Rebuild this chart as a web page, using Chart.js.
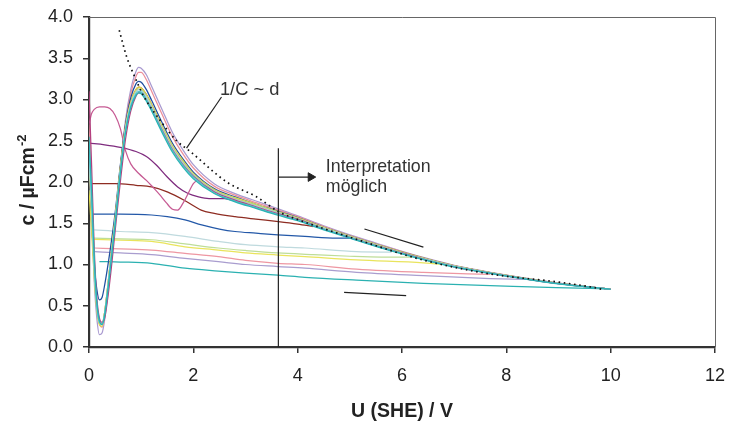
<!DOCTYPE html>
<html><head><meta charset="utf-8">
<script src="https://cdn.jsdelivr.net/npm/chart.js@4.4.0/dist/chart.umd.min.js"></script>
<style>html,body{margin:0;padding:0;background:#fff;}</style>
</head><body>
<canvas id="c" width="730" height="423"></canvas>
<script>
// ---------- tick labels ----------
const xTickValues = [0, 2, 4, 6, 8, 10, 12];
const xTickLabels = ['0', '2', '4', '6', '8', '10', '12'];
const yTickValues = [0, 0.5, 1, 1.5, 2, 2.5, 3, 3.5, 4];
const yTickLabels = ['0.0', '0.5', '1.0', '1.5', '2.0', '2.5', '3.0', '3.5', '4.0'];

// ---------- peak curves (shared potential grid) ----------
const peakU = [0, 0.05, 0.1, 0.15, 0.2, 0.25, 0.3, 0.4, 0.5, 0.6, 0.7, 0.8, 0.9, 0.95, 1.0, 1.1, 1.2, 1.4, 1.6, 1.8, 2.0, 2.4, 2.8, 3.2, 3.6, 4.0, 4.5, 5.0, 5.5, 6.0, 6.5, 7.0, 8.0, 9.0, 10.0];
const peakLavender = [2.3, 1.6, 0.8, 0.35, 0.15, 0.17, 0.33, 0.88, 1.5, 2.17, 2.75, 3.12, 3.34, 3.39, 3.38, 3.3, 3.16, 2.88, 2.6, 2.39, 2.21, 1.98, 1.86, 1.77, 1.68, 1.59, 1.47, 1.36, 1.26, 1.16, 1.07, 0.99, 0.872, 0.775, 0.70];
const peakSalmon = [2.7, 1.9, 1.05, 0.5, 0.28, 0.24, 0.36, 0.9, 1.5, 2.15, 2.7, 3.07, 3.28, 3.33, 3.33, 3.24, 3.1, 2.82, 2.55, 2.34, 2.17, 1.95, 1.84, 1.75, 1.665, 1.58, 1.46, 1.35, 1.25, 1.155, 1.065, 0.988, 0.87, 0.773, 0.70];
const peakNavy = [2.0, 1.5, 1.0, 0.7, 0.57, 0.6, 0.75, 1.15, 1.62, 2.2, 2.7, 3.02, 3.19, 3.22, 3.21, 3.12, 2.99, 2.72, 2.47, 2.28, 2.12, 1.92, 1.82, 1.73, 1.65, 1.57, 1.45, 1.345, 1.245, 1.15, 1.062, 0.985, 0.868, 0.772, 0.70];
const peakBrown = [2.18, 1.6, 0.95, 0.5, 0.3, 0.28, 0.42, 0.97, 1.55, 2.17, 2.67, 2.97, 3.12, 3.15, 3.14, 3.06, 2.94, 2.67, 2.43, 2.25, 2.09, 1.9, 1.8, 1.72, 1.64, 1.56, 1.445, 1.34, 1.24, 1.145, 1.06, 0.982, 0.866, 0.77, 0.70];
const peakYellow = [1.9, 1.4, 0.85, 0.45, 0.27, 0.25, 0.42, 0.98, 1.56, 2.17, 2.67, 2.97, 3.12, 3.15, 3.14, 3.06, 2.94, 2.68, 2.44, 2.26, 2.1, 1.91, 1.81, 1.73, 1.645, 1.565, 1.45, 1.345, 1.245, 1.15, 1.062, 0.985, 0.868, 0.772, 0.70];
const peakLightGreen = [2.2, 1.6, 0.9, 0.48, 0.29, 0.27, 0.42, 0.97, 1.54, 2.15, 2.65, 2.95, 3.1, 3.13, 3.12, 3.04, 2.92, 2.66, 2.42, 2.24, 2.09, 1.9, 1.8, 1.72, 1.64, 1.56, 1.445, 1.34, 1.24, 1.145, 1.06, 0.982, 0.867, 0.77, 0.70];
const peakLightBlue = [2.3, 1.7, 0.95, 0.5, 0.3, 0.27, 0.4, 0.95, 1.52, 2.14, 2.64, 2.94, 3.09, 3.12, 3.11, 3.03, 2.91, 2.65, 2.41, 2.23, 2.08, 1.89, 1.79, 1.71, 1.63, 1.55, 1.44, 1.335, 1.235, 1.14, 1.055, 0.98, 0.865, 0.77, 0.70];
const peakMagenta = [3.1, 2.2, 1.2, 0.6, 0.35, 0.3, 0.35, 0.8, 1.4, 2.0, 2.52, 2.86, 3.04, 3.08, 3.08, 3.0, 2.88, 2.63, 2.39, 2.21, 2.07, 1.88, 1.78, 1.7, 1.62, 1.55, 1.43, 1.33, 1.23, 1.14, 1.05, 0.975, 0.862, 0.768, 0.70];
const peakCyan = [2.4, 1.8, 1.0, 0.5, 0.3, 0.28, 0.4, 0.93, 1.5, 2.12, 2.62, 2.92, 3.07, 3.1, 3.09, 3.0, 2.88, 2.62, 2.38, 2.2, 2.06, 1.87, 1.77, 1.69, 1.61, 1.54, 1.43, 1.325, 1.225, 1.135, 1.05, 0.975, 0.862, 0.768, 0.70];
const peakTeal = [2.55, 1.9, 1.1, 0.55, 0.32, 0.27, 0.38, 0.9, 1.48, 2.1, 2.6, 2.9, 3.05, 3.08, 3.07, 2.98, 2.86, 2.6, 2.36, 2.18, 2.04, 1.86, 1.76, 1.68, 1.6, 1.53, 1.42, 1.32, 1.22, 1.13, 1.045, 0.97, 0.86, 0.765, 0.70];

// ---------- plateau curves ----------
const pinkU = [0, 0.05, 0.1, 0.2, 0.3, 0.4, 0.5, 0.6, 0.7, 0.8, 0.96, 1.1, 1.22, 1.35, 1.48, 1.6, 1.7, 1.8, 1.9, 2.0, 2.1];
const pinkC = [2.7, 2.83, 2.88, 2.91, 2.91, 2.89, 2.81, 2.65, 2.38, 2.22, 2.1, 2.02, 1.94, 1.85, 1.75, 1.67, 1.66, 1.74, 1.86, 1.98, 2.03];
const purpleU = [0, 0.3, 0.6, 0.9, 1.1, 1.3, 1.5, 1.7, 1.9, 2.1, 2.3, 2.6, 2.8, 3.2, 3.6, 4.0, 4.5, 5.0, 5.5, 6.0, 7.0, 8.0, 9.0, 10.0];
const purpleC = [2.47, 2.45, 2.42, 2.37, 2.31, 2.2, 2.06, 1.94, 1.86, 1.82, 1.8, 1.8, 1.77, 1.69, 1.61, 1.54, 1.43, 1.325, 1.225, 1.135, 0.972, 0.862, 0.767, 0.70];
const brownU = [0, 0.5, 0.9, 1.2, 1.5, 1.85, 2.15, 2.4, 2.8, 3.2, 3.63, 4.0, 4.3];
const brownC = [1.98, 1.98, 1.96, 1.94, 1.88, 1.77, 1.66, 1.62, 1.58, 1.55, 1.52, 1.49, 1.46];
const blueU = [0.08, 0.6, 1.2, 1.5, 1.84, 2.16, 2.5, 2.8, 3.2, 3.62, 4.14, 4.75, 5.0];
const blueC = [1.61, 1.61, 1.6, 1.58, 1.54, 1.48, 1.43, 1.4, 1.38, 1.36, 1.34, 1.32, 1.32];
const lightBlueU = [0.1, 0.6, 1.2, 1.84, 2.48, 3.0, 3.62, 4.14, 5.13, 5.8];
const lightBlueC = [1.42, 1.4, 1.385, 1.34, 1.28, 1.24, 1.215, 1.2, 1.155, 1.15];
const lightGreenU = [0.1, 0.6, 1.2, 1.84, 2.48, 3.0, 3.62, 4.3, 5.0, 5.6, 6.2];
const lightGreenC = [1.32, 1.31, 1.3, 1.25, 1.2, 1.17, 1.14, 1.12, 1.1, 1.09, 1.09];
const yellowU = [0.1, 0.6, 1.2, 1.84, 2.48, 3.0, 3.62, 4.14, 5.13, 6.41, 6.9];
const yellowC = [1.305, 1.295, 1.28, 1.215, 1.175, 1.14, 1.115, 1.095, 1.055, 1.02, 0.995];
const salmonU = [0.1, 0.6, 1.2, 1.84, 2.48, 3.0, 3.62, 4.14, 5.13, 6.41, 7.69];
const salmonC = [1.2, 1.19, 1.175, 1.135, 1.095, 1.05, 1.015, 1.0, 0.945, 0.905, 0.88];
const lavenderU = [0.1, 0.6, 1.2, 1.84, 2.48, 3.0, 3.62, 4.14, 5.13, 6.41, 7.69, 8.33];
const lavenderC = [1.155, 1.14, 1.12, 1.075, 1.035, 1.0, 0.975, 0.955, 0.905, 0.865, 0.83, 0.82];
const tealU = [0.2, 0.6, 1.2, 1.84, 2.48, 3.0, 3.62, 4.14, 5.13, 6.41, 7.69, 8.96, 9.92];
const tealC = [1.035, 1.03, 1.015, 0.955, 0.92, 0.895, 0.87, 0.845, 0.81, 0.77, 0.745, 0.72, 0.705];

// ---------- 1/C ~ d model curve ----------
const modelU = [0.58, 0.72, 0.88, 1.04, 1.36, 1.68, 1.94, 2.64, 3.21, 3.66, 3.85, 5.13, 6.4, 7.69, 8.96, 9.6, 9.83];
const modelC = [3.84, 3.52, 3.27, 3.05, 2.75, 2.5, 2.37, 2.0, 1.82, 1.63, 1.58, 1.305, 1.055, 0.885, 0.79, 0.73, 0.70];

// ---------- annotation geometry (data coordinates) ----------
const leaderU = [2.54, 1.87];
const leaderC = [3.03, 2.41];
const limitU = [3.63, 3.63];
const limitC = [0, 2.41];
const arrowU = [3.63, 4.25];
const arrowC = [2.06, 2.06];
const slope1U = [5.28, 6.41];
const slope1C = [1.43, 1.21];
const slope2U = [4.89, 6.08];
const slope2C = [0.663, 0.622];
const labelModel = { text: '1/C ~ d', u: 2.51, c: 3.055 };
const labelInterp = [
  { text: 'Interpretation', u: 4.54, c: 2.125 },
  { text: 'möglich', u: 4.54, c: 1.88 }
];

const pts = (us, cs) => us.map((u, i) => ({ x: u, y: cs[i] }));

const FONT = "'Liberation Sans', Arial, Helvetica, sans-serif";
Chart.defaults.font.family = FONT;

function curve(us, cs, color, w) {
  return {
    data: pts(us, cs), borderColor: color, borderWidth: w || 1.25,
    pointRadius: 0, fill: false, cubicInterpolationMode: 'monotone'
  };
}
function straight(us, cs) {
  return {
    data: pts(us, cs), borderColor: '#222', borderWidth: 1.2,
    pointRadius: 0, fill: false, tension: 0
  };
}

const arrowSet = straight(arrowU, arrowC);
arrowSet.pointRadius = [0, 5];
arrowSet.pointStyle = 'triangle';
arrowSet.rotation = 90;
arrowSet.pointBackgroundColor = '#222';
arrowSet.pointBorderColor = '#222';
arrowSet.pointBorderWidth = 1;

const modelSet = {
  data: pts(modelU, modelC), borderColor: '#111', borderWidth: 1.7,
  borderDash: [1.6, 3.6], pointRadius: 0, fill: false, cubicInterpolationMode: 'monotone'
};

const datasets = [
  straight(leaderU, leaderC),
  straight(limitU, limitC),
  arrowSet,
  straight(slope1U, slope1C),
  straight(slope2U, slope2C),
  modelSet,
  curve(peakU, peakTeal, '#2bb3b5'),
  curve(peakU, peakCyan, '#52c6cc'),
  curve(peakU, peakMagenta, '#b4407f'),
  curve(peakU, peakLightBlue, '#acd3d8'),
  curve(peakU, peakLightGreen, '#b3d68c'),
  curve(peakU, peakYellow, '#e2dc45'),
  curve(peakU, peakBrown, '#8e2c22'),
  curve(peakU, peakNavy, '#1f4f9f'),
  curve(peakU, peakSalmon, '#ec8f9b'),
  curve(peakU, peakLavender, '#a99ad0'),
  curve(pinkU, pinkC, '#c65a93'),
  curve(purpleU, purpleC, '#7e2b7e'),
  curve(brownU, brownC, '#8e2c22'),
  curve(blueU, blueC, '#2358a8'),
  curve(lightBlueU, lightBlueC, '#bfdade'),
  curve(lightGreenU, lightGreenC, '#bedd98'),
  curve(yellowU, yellowC, '#e9e45c'),
  curve(salmonU, salmonC, '#ee97a2'),
  curve(lavenderU, lavenderC, '#a99dcf'),
  curve(tealU, tealC, '#2bb1b1')
];

const decor = {
  id: 'decor',
  afterDatasetsDraw(chart) {
    const { ctx, chartArea: a, scales: { x, y } } = chart;
    ctx.save();
    // top & right frame
    ctx.strokeStyle = '#666';
    ctx.lineWidth = 1;
    ctx.beginPath();
    ctx.moveTo(a.left, a.top + 0.5);
    ctx.lineTo(a.right + 0.5, a.top + 0.5);
    ctx.lineTo(a.right + 0.5, a.bottom);
    ctx.stroke();
    // annotation texts
    ctx.fillStyle = '#333';
    ctx.font = '18.3px ' + FONT;
    ctx.textAlign = 'left';
    ctx.textBaseline = 'alphabetic';
    ctx.fillText(labelModel.text, x.getPixelForValue(labelModel.u), y.getPixelForValue(labelModel.c));
    ctx.font = '17.8px ' + FONT;
    labelInterp.forEach(l => ctx.fillText(l.text, x.getPixelForValue(l.u), y.getPixelForValue(l.c)));
    ctx.restore();
  },
  afterDraw(chart) {
    const { ctx, chartArea: a } = chart;
    ctx.save();
    ctx.fillStyle = '#222';
    // x title
    ctx.font = 'bold 19.5px ' + FONT;
    ctx.textAlign = 'center';
    ctx.textBaseline = 'alphabetic';
    ctx.fillText('U (SHE) / V', (a.left + a.right) / 2, 416.5);
    // y title with superscript
    const main = 'c / µFcm';
    const sup = '-2';
    ctx.font = 'bold 19.5px ' + FONT;
    const wMain = ctx.measureText(main).width;
    ctx.font = 'bold 13px ' + FONT;
    const wSup = ctx.measureText(sup).width;
    const total = wMain + wSup + 1;
    ctx.translate(34, 180);
    ctx.rotate(-Math.PI / 2);
    ctx.textAlign = 'left';
    ctx.font = 'bold 19.5px ' + FONT;
    ctx.fillText(main, -total / 2, 0);
    ctx.font = 'bold 13px ' + FONT;
    ctx.fillText(sup, -total / 2 + wMain + 1, -8);
    ctx.restore();
  }
};

new Chart(document.getElementById('c'), {
  type: 'line',
  data: { datasets },
  options: {
    responsive: false,
    animation: false,
    devicePixelRatio: 1,
    layout: { padding: { left: 0, right: 15, top: 17, bottom: 0 } },
    plugins: { legend: { display: false }, tooltip: { enabled: false } },
    scales: {
      x: {
        type: 'linear', min: 0, max: 12,
        afterBuildTicks: s => { s.ticks = xTickValues.map(v => ({ value: v })); },
        afterFit: s => { s.height = 76; s.paddingLeft = 0; s.paddingRight = 0; },
        ticks: {
          color: '#222', font: { size: 18 }, padding: 12,
          callback: (v) => xTickLabels[xTickValues.indexOf(v)]
        },
        grid: { display: true, drawOnChartArea: false, drawTicks: true, tickLength: 6, color: '#333', lineWidth: 1.5 },
        border: { display: true, color: '#333', width: 2.2 },
        title: { display: false }
      },
      y: {
        type: 'linear', min: 0, max: 4,
        afterBuildTicks: s => { s.ticks = yTickValues.map(v => ({ value: v })); },
        afterFit: s => { s.width = 89; s.paddingTop = 0; s.paddingBottom = 0; },
        ticks: {
          color: '#222', font: { size: 18 }, padding: 10,
          callback: (v) => yTickLabels[yTickValues.indexOf(v)]
        },
        grid: { display: true, drawOnChartArea: false, drawTicks: true, tickLength: 6, color: '#333', lineWidth: 1.5 },
        border: { display: true, color: '#333', width: 2.2 },
        title: { display: false }
      }
    }
  },
  plugins: [decor]
});
</script>
</body></html>
